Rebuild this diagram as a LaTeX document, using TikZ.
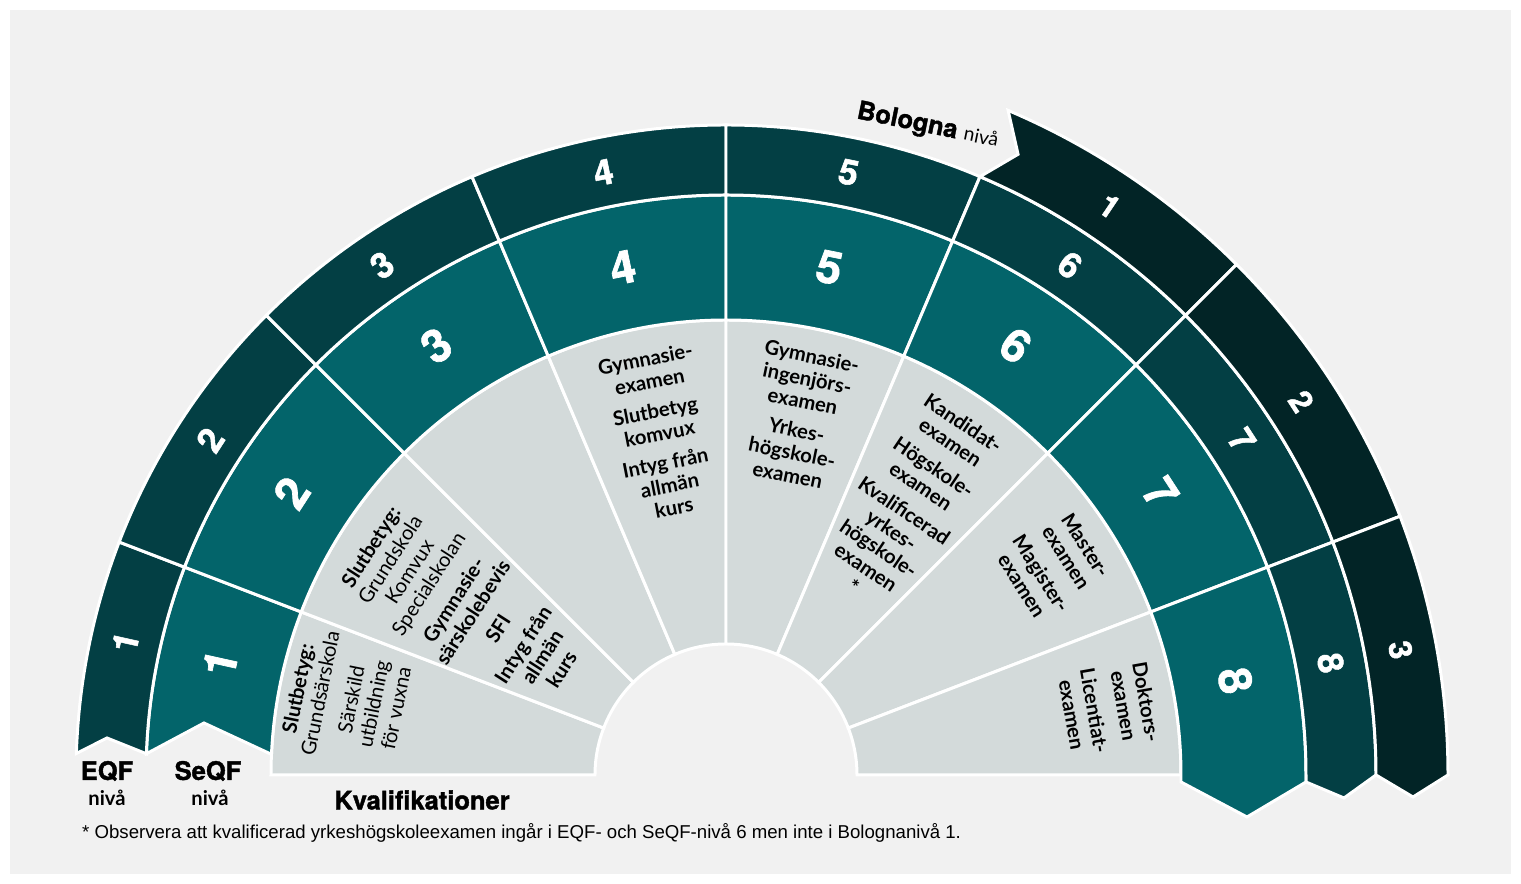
\documentclass[tikz,border=0pt]{standalone}
\usepackage{fontspec}
\setmainfont{Lato}
\newfontfamily\heavyfont{TeX Gyre Heros}[BoldFeatures={FakeBold=1.5}]
\newfontfamily\notefont{Liberation Sans}
\usepackage{xcolor}
\definecolor{bakgrund}{HTML}{F1F1F1}
\definecolor{kvalgra}{HTML}{D3DADA}
\definecolor{seqfgron}{HTML}{03646A}
\definecolor{eqfgron}{HTML}{033F44}
\definecolor{bolgron}{HTML}{022426}

\begin{document}
\begin{tikzpicture}[x=0.02cm,y=0.02cm,
	kval/.style={fill=kvalgra,draw=white,line width=1.7pt},
	seqf/.style={fill=seqfgron,draw=white,line width=1.7pt},
	eqf/.style={fill=eqfgron,draw=white,line width=1.7pt},
	bol/.style={fill=bolgron,draw=white,line width=1.7pt},
	seqfnr/.style={text=white,font=\heavyfont\bfseries\fontsize{26}{26}\selectfont},
	eqfnr/.style={text=white,font=\heavyfont\bfseries\fontsize{20}{20}\selectfont},
	bolnr/.style={text=white,font=\heavyfont\bfseries\fontsize{18}{18}\selectfont},
	kvaltext/.style={align=center,inner sep=0pt,font=\fontsize{11.5}{13}\selectfont},
	kvalfet/.style={align=center,inner sep=0pt,font=\bfseries\fontsize{11.5}{13}\selectfont},
	rubrik/.style={font=\heavyfont\bfseries\fontsize{14.5}{15}\selectfont},
	niva/.style={font=\bfseries\fontsize{11.5}{12}\selectfont}]
			\useasboundingbox (-726,-109) rectangle (795,775);
			\fill[white] (-726,-109) rectangle (795,775);
			\fill[bakgrund] (-716,-99) rectangle (785,765);
			%kvalifikationer
			\path[kval] (159:131) -- (159:455) arc[start angle=159,end angle=180,radius=455] -- (180:131) arc[start angle=180,end angle=159,radius=131] -- cycle;
			\path[kval] (135:131) -- (135:455) arc[start angle=135,end angle=159,radius=455] -- (159:131) arc[start angle=159,end angle=135,radius=131] -- cycle;
			\path[kval] (113:131) -- (113:455) arc[start angle=113,end angle=135,radius=455] -- (135:131) arc[start angle=135,end angle=113,radius=131] -- cycle;
			\path[kval] (90:131) -- (90:455) arc[start angle=90,end angle=113,radius=455] -- (113:131) arc[start angle=113,end angle=90,radius=131] -- cycle;
			\path[kval] (67:131) -- (67:455) arc[start angle=67,end angle=90,radius=455] -- (90:131) arc[start angle=90,end angle=67,radius=131] -- cycle;
			\path[kval] (45:131) -- (45:455) arc[start angle=45,end angle=67,radius=455] -- (67:131) arc[start angle=67,end angle=45,radius=131] -- cycle;
			\path[kval] (21:131) -- (21:455) arc[start angle=21,end angle=45,radius=455] -- (45:131) arc[start angle=45,end angle=21,radius=131] -- cycle;
			\path[kval] (0:131) -- (0:455) arc[start angle=0,end angle=21,radius=455] -- (21:131) arc[start angle=21,end angle=0,radius=131] -- cycle;
			%SeQF-nivåer
			\path[seqf] (159:455) -- (159:580) arc[start angle=159,end angle=177.9,radius=580] -- (-522,52) -- (177.4:455) arc[start angle=177.4,end angle=159,radius=455] -- cycle;
			\path[seqf] (135:455) -- (135:580) arc[start angle=135,end angle=159,radius=580] -- (159:455) arc[start angle=159,end angle=135,radius=455] -- cycle;
			\path[seqf] (113:455) -- (113:580) arc[start angle=113,end angle=135,radius=580] -- (135:455) arc[start angle=135,end angle=113,radius=455] -- cycle;
			\path[seqf] (90:455) -- (90:580) arc[start angle=90,end angle=113,radius=580] -- (113:455) arc[start angle=113,end angle=90,radius=455] -- cycle;
			\path[seqf] (67:455) -- (67:580) arc[start angle=67,end angle=90,radius=580] -- (90:455) arc[start angle=90,end angle=67,radius=455] -- cycle;
			\path[seqf] (45:455) -- (45:580) arc[start angle=45,end angle=67,radius=580] -- (67:455) arc[start angle=67,end angle=45,radius=455] -- cycle;
			\path[seqf] (21:455) -- (21:580) arc[start angle=21,end angle=45,radius=580] -- (45:455) arc[start angle=45,end angle=21,radius=455] -- cycle;
			\path[seqf] (21:455) -- (21:580) arc[start angle=21,end angle=0,radius=580] -- (580,-7) -- (521,-42) -- (455,-7) -- (0:455) arc[start angle=0,end angle=21,radius=455] -- cycle;
			%EQF-nivåer
			\path[eqf] (159:580) -- (159:650) arc[start angle=159,end angle=178.1,radius=650] -- (-619,37) -- (177.9:580) arc[start angle=177.9,end angle=159,radius=580] -- cycle;
			\path[eqf] (135:580) -- (135:650) arc[start angle=135,end angle=159,radius=650] -- (159:580) arc[start angle=159,end angle=135,radius=580] -- cycle;
			\path[eqf] (113:580) -- (113:650) arc[start angle=113,end angle=135,radius=650] -- (135:580) arc[start angle=135,end angle=113,radius=580] -- cycle;
			\path[eqf] (90:580) -- (90:650) arc[start angle=90,end angle=113,radius=650] -- (113:580) arc[start angle=113,end angle=90,radius=580] -- cycle;
			\path[eqf] (67:580) -- (67:650) arc[start angle=67,end angle=90,radius=650] -- (90:580) arc[start angle=90,end angle=67,radius=580] -- cycle;
			\path[eqf] (45:580) -- (45:650) arc[start angle=45,end angle=67,radius=650] -- (67:580) arc[start angle=67,end angle=45,radius=580] -- cycle;
			\path[eqf] (21:580) -- (21:650) arc[start angle=21,end angle=45,radius=650] -- (45:580) arc[start angle=45,end angle=21,radius=580] -- cycle;
			\path[eqf] (21:580) -- (21:650) arc[start angle=21,end angle=0,radius=650] -- (618,-23) -- (580,-7) -- (0:580) arc[start angle=0,end angle=21,radius=580] -- cycle;
			%Bolognanivåer
			\path[bol] (45:650) -- (45:722) arc[start angle=45,end angle=67,radius=722] -- (64.8:686) -- (67:650) arc[start angle=67,end angle=45,radius=650] -- cycle;
			\path[bol] (21:650) -- (21:722) arc[start angle=21,end angle=45,radius=722] -- (45:650) arc[start angle=45,end angle=21,radius=650] -- cycle;
			\path[bol] (21:650) -- (21:722) arc[start angle=21,end angle=0,radius=722] -- (687,-22) -- (0:650) arc[start angle=0,end angle=21,radius=650] -- cycle;
			%siffror SeQF
			\node[seqfnr,rotate=77.5] (seqf1) at (167.5:518) {1};
			\node[seqfnr,rotate=57] (seqf2) at (147:518) {2};
			\node[seqfnr,rotate=34] (seqf3) at (124:518) {3};
			\node[seqfnr,rotate=11.5] (seqf4) at (101.5:518) {4};
			\node[seqfnr,rotate=-11.5] (seqf5) at (78.5:518) {5};
			\node[seqfnr,rotate=-34] (seqf6) at (56:518) {6};
			\node[seqfnr,rotate=-57] (seqf7) at (33:518) {7};
			\node[seqfnr,rotate=-79.5] (seqf8) at (10.5:518) {8};
			%siffror EQF
			\node[eqfnr,rotate=77.5] (eqf1) at (167.5:615) {1};
			\node[eqfnr,rotate=57] (eqf2) at (147:615) {2};
			\node[eqfnr,rotate=34] (eqf3) at (124:615) {3};
			\node[eqfnr,rotate=11.5] (eqf4) at (101.5:615) {4};
			\node[eqfnr,rotate=-11.5] (eqf5) at (78.5:615) {5};
			\node[eqfnr,rotate=-34] (eqf6) at (56:615) {6};
			\node[eqfnr,rotate=-57] (eqf7) at (33:615) {7};
			\node[eqfnr,rotate=-79.5] (eqf8) at (10.5:615) {8};
			%siffror Bologna
			\node[bolnr,rotate=-34] (bol1) at (56:686) {1};
			\node[bolnr,rotate=-57] (bol2) at (33:686) {2};
			\node[bolnr,rotate=-79.5] (bol3) at (10.5:686) {3};
			%kvalifikationer, texter
			\node[kvaltext,rotate=78.6] (kval1) at (168.6:387) {\textbf{Slutbetyg:}\\Grundsärskola\\[5pt]Särskild\\utbildning\\för vuxna};
			\node[kvaltext,rotate=57.3] (kval2) at (147.3:309) {\textbf{Slutbetyg:}\\Grundskola\\Komvux\\Specialskolan\\[4pt]\textbf{Gymnasie-}\\\textbf{särskolebevis}\\[4pt]\textbf{SFI}\\[4pt]\textbf{Intyg från}\\\textbf{allmän}\\\textbf{kurs}};
			\node[kvalfet,rotate=11] (kval4) at (101:348) {Gymnasie-\\examen\\[4pt]Slutbetyg\\komvux\\[4pt]Intyg från\\allmän\\kurs};
			\node[kvalfet,rotate=-11.6] (kval5) at (78.4:367) {Gymnasie-\\ingenjörs-\\examen\\[4pt]Yrkes-\\högskole-\\examen};
			\node[kvalfet,rotate=-34] (kval6) at (56:326) {Kandidat-\\examen\\[4pt]Högskole-\\examen\\[4pt]Kvalificerad\\yrkes-\\högskole-\\examen\\*};
			\node[kvalfet,rotate=-57.4] (kval7) at (32.6:389) {Master-\\examen\\[4pt]Magister-\\examen};
			\node[kvalfet,rotate=-80] (kval8) at (9.9:389) {Doktors-\\examen\\[4pt]Licentiat-\\examen};
			%rubriker
			\node[rubrik] (eqf) at (-619,4) {EQF};
			\node[niva] (eqfniva) at (-619,-23) {nivå};
			\node[rubrik] (seqf) at (-518,4) {SeQF};
			\node[niva] (seqfniva) at (-516,-23) {nivå};
			\node[rubrik] (kval) at (-304,-25) {Kvalifikationer};
			\node[rubrik,rotate=-11.5,anchor=base west] (bologna) at (124,658) {Bologna {\normalfont\fontsize{11}{12}\selectfont nivå}};
			\node[anchor=west,font=\notefont\fontsize{10.6}{12}\selectfont] (fotnot) at (-650,-58) {* Observera att kvalificerad yrkeshögskoleexamen ingår i EQF- och SeQF-nivå 6 men inte i Bolognanivå 1.};
		\end{tikzpicture}
\end{document}
